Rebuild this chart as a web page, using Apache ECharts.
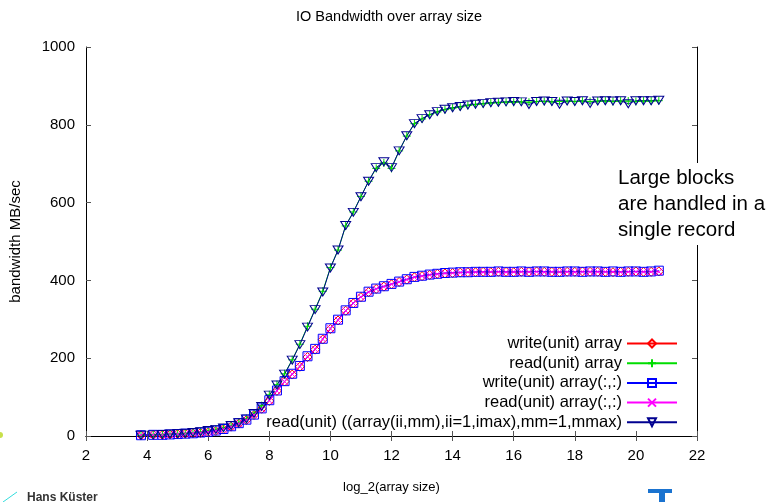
<!DOCTYPE html>
<html>
<head>
<meta charset="utf-8">
<script src="https://cdn.jsdelivr.net/npm/echarts@6/dist/echarts.min.js"></script>
<style>
  html, body { margin: 0; padding: 0; background: #fff; }
  #chart { width: 770px; height: 502px; }
</style>
</head>
<body>
<div id="chart"></div>
<script>
// log_2(array size) of every measurement
const sizes = [3.8, 4.2, 4.5, 4.75, 5, 5.25, 5.5, 5.75, 6, 6.25, 6.5, 6.75, 7, 7.25, 7.5, 7.75,
  8, 8.25, 8.5, 8.75, 9, 9.25, 9.5, 9.75, 10, 10.25, 10.5, 10.75, 11, 11.25, 11.5, 11.75,
  12, 12.25, 12.5, 12.75, 13, 13.25, 13.5, 13.75, 14, 14.25, 14.5, 14.75, 15, 15.25, 15.5, 15.75,
  16, 16.25, 16.5, 16.75, 17, 17.25, 17.5, 17.75, 18, 18.25, 18.5, 18.75, 19, 19.25, 19.5, 19.75,
  20, 20.25, 20.5, 20.75];

// bandwidth MB/sec
const writeArray = [2, 3, 3, 4, 5, 6, 7, 8, 10, 13, 17, 24, 32, 41, 54, 70,
  90, 116, 140, 158, 178, 203, 222, 248, 275, 297, 322, 341, 357, 370, 378, 384,
  390, 396, 402, 408, 411, 414, 417, 418, 419, 420, 421, 421, 422, 421, 422, 422,
  421, 422, 422, 423, 422, 422, 421, 422, 422, 423, 422, 422, 422, 421, 422, 422,
  423, 422, 422, 423];
const readArray = [2, 3, 4, 5, 6, 7, 9, 11, 14, 17, 21, 27, 35, 45, 59, 78,
  106, 132, 160, 196, 236, 282, 326, 372, 433, 478, 540, 576, 616, 655, 688, 702,
  688, 733, 771, 803, 815, 826, 833, 839, 843, 846, 850, 852, 854, 856, 857, 858,
  858, 859, 858, 860, 860, 859, 860, 861, 860, 861, 860, 861, 861, 860, 861, 861,
  860, 861, 861, 862];
const writeArray2d = [2, 3, 3, 4, 5, 6, 7, 9, 11, 14, 18, 25, 33, 42, 55, 71,
  92, 117, 141, 160, 180, 205, 224, 250, 277, 299, 323, 342, 358, 371, 379, 385,
  391, 397, 403, 409, 412, 415, 417, 419, 420, 421, 421, 422, 422, 422, 423, 422,
  422, 423, 422, 423, 423, 422, 422, 423, 423, 422, 423, 423, 422, 423, 422, 423,
  423, 422, 423, 425];
const readArray2d = [2, 3, 3, 4, 5, 6, 7, 8, 10, 13, 17, 24, 32, 41, 54, 70,
  91, 116, 140, 159, 179, 204, 223, 249, 276, 298, 322, 341, 357, 370, 378, 384,
  390, 396, 402, 408, 411, 414, 416, 418, 419, 420, 421, 421, 421, 422, 422, 421,
  422, 422, 422, 422, 421, 422, 422, 422, 421, 422, 422, 422, 422, 422, 421, 422,
  422, 422, 422, 422];
const readImplied = [2, 3, 4, 5, 6, 7, 9, 11, 14, 17, 21, 27, 34, 44, 58, 76,
  105, 131, 159, 195, 235, 280, 325, 370, 432, 478, 541, 575, 615, 655, 690, 705,
  690, 733, 772, 803, 816, 826, 834, 840, 844, 847, 851, 853, 855, 857, 858, 859,
  860, 859, 852, 860, 861, 860, 853, 861, 860, 862, 855, 861, 862, 861, 862, 854,
  862, 862, 862, 863];

const seriesNames = [
  'write(unit) array',
  'read(unit) array',
  'write(unit) array(:,:)',
  'read(unit) array(:,:)',
  'read(unit) ((array(ii,mm),ii=1,imax),mm=1,mmax)'
];

const xTicks = { min: 2, max: 22, interval: 2 };
const yTicks = { min: 0, max: 1000, interval: 200 };

function pairs(values) {
  return sizes.map(function (x, i) { return [x, values[i]]; });
}

const plusPath = 'path://M0,5L10,5M5,0L5,10';
const crossPath = 'path://M0,0L10,10M10,0L0,10';
const FONT = 'Liberation Sans, Arial, sans-serif';

function makeSeries(name, values, color, symbol, size, rotate) {
  return {
    name: name,
    type: 'line',
    data: pairs(values),
    symbol: symbol,
    symbolSize: size,
    symbolRotate: rotate || 0,
    showSymbol: true,
    color: color,
    lineStyle: { color: color, width: 1 },
    itemStyle: { color: 'rgba(0,0,0,0)', borderColor: color, borderWidth: 1 },
    emphasis: { disabled: true }
  };
}

const chart = echarts.init(document.getElementById('chart'));

const axisFont = { fontFamily: FONT, fontSize: 15, color: '#000', formatter: function (v) { return String(v); } };

chart.setOption({
  animation: false,
  backgroundColor: '#fff',
  title: {
    text: 'IO Bandwidth over array size',
    left: 291,
    top: 4,
    textStyle: { fontFamily: FONT, fontSize: 14.5, fontWeight: 'normal', color: '#000' }
  },
  grid: { left: 86, right: 73, top: 47, bottom: 66 },
  legend: {
    orient: 'vertical',
    right: 92,
    top: 335,
    padding: 0,
    align: 'right',
    itemWidth: 50,
    itemHeight: 10,
    itemGap: 2.7,
    data: seriesNames,
    selectedMode: false,
    textStyle: { fontFamily: FONT, fontSize: 16.5, lineHeight: 16, color: '#000' }
  },
  xAxis: [{
    type: 'value',
    min: xTicks.min, max: xTicks.max, interval: xTicks.interval,
    name: 'log_2(array size)',
    nameLocation: 'middle',
    nameGap: 45,
    nameTextStyle: { fontFamily: FONT, fontSize: 13, color: '#000' },
    axisLine: { lineStyle: { color: '#000', width: 1 } },
    axisTick: { inside: true, length: 5, lineStyle: { color: '#555' } },
    axisLabel: Object.assign({ margin: 12 }, axisFont),
    splitLine: { show: false }
  }, {
    type: 'value',
    position: 'top',
    min: xTicks.min, max: xTicks.max, interval: xTicks.interval,
    axisLine: { lineStyle: { color: '#000', width: 1 } },
    axisTick: { inside: true, length: 5, lineStyle: { color: '#555' } },
    axisLabel: { show: false },
    splitLine: { show: false }
  }],
  yAxis: [{
    type: 'value',
    min: yTicks.min, max: yTicks.max, interval: yTicks.interval,
    name: 'bandwidth MB/sec',
    nameLocation: 'middle',
    nameGap: 63,
    nameTextStyle: { fontFamily: FONT, fontSize: 15, color: '#000' },
    axisLine: { show: true, lineStyle: { color: '#000', width: 1 } },
    axisTick: { show: true, inside: true, length: 5, lineStyle: { color: '#555' } },
    axisLabel: Object.assign({ margin: 11 }, axisFont),
    splitLine: { show: false }
  }, {
    type: 'value',
    position: 'right',
    min: yTicks.min, max: yTicks.max, interval: yTicks.interval,
    axisLine: { show: true, lineStyle: { color: '#000', width: 1 } },
    axisTick: { show: true, inside: true, length: 5, lineStyle: { color: '#555' } },
    axisLabel: { show: false },
    splitLine: { show: false }
  }],
  series: [
    makeSeries(seriesNames[0], writeArray, '#ff0000', 'diamond', 9),
    makeSeries(seriesNames[1], readArray, '#00dd00', plusPath, 8),
    makeSeries(seriesNames[2], writeArray2d, '#0000ff', 'rect', 9),
    makeSeries(seriesNames[3], readArray2d, '#ff00ff', crossPath, 7),
    makeSeries(seriesNames[4], readImplied, '#000090', 'triangle', [10, 8], 180)
  ],
  graphic: [{
    type: 'text',
    left: 612,
    top: 163,
    z: 100,
    style: {
      text: 'Large blocks\nare handled in a\nsingle record',
      fontFamily: FONT,
      fontSize: 20.5,
      lineHeight: 26,
      fill: '#000',
      backgroundColor: '#fff',
      padding: [2, 6, 2, 6]
    }
  }, {
    type: 'text',
    left: 27,
    top: 492,
    style: { text: 'Hans Küster', fontFamily: FONT, fontSize: 12, fontWeight: 'bold', fill: '#333' }
  }, {
    type: 'line',
    shape: { x1: 3, y1: 502, x2: 17, y2: 492 },
    style: { stroke: '#33dddd', lineWidth: 1 }
  }, {
    type: 'rect',
    shape: { x: 648, y: 489, width: 24, height: 4 },
    style: { fill: '#1a73d0' }
  }, {
    type: 'rect',
    shape: { x: 659, y: 492, width: 6, height: 10 },
    style: { fill: '#1a73d0' }
  }, {
    type: 'circle',
    shape: { cx: 0, cy: 435, r: 3 },
    style: { fill: '#c8e04a' }
  }]
});
</script>
</body>
</html>
